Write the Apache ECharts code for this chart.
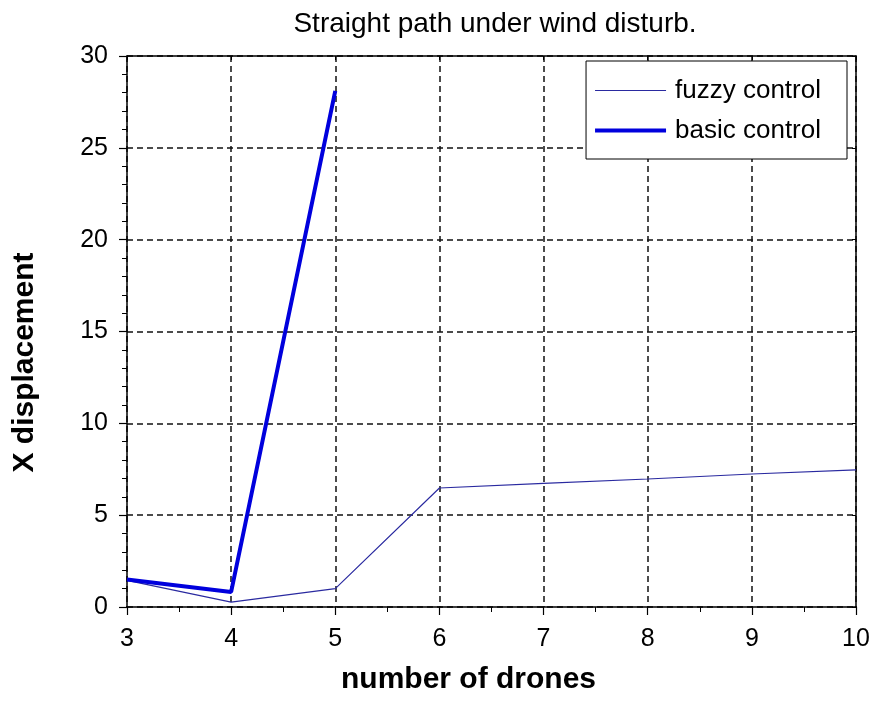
<!DOCTYPE html>
<html>
<head>
<meta charset="utf-8">
<script src="https://cdn.jsdelivr.net/npm/echarts@6/dist/echarts.min.js"></script>
<style>
  html, body { margin: 0; padding: 0; background: #fff; }
  #chart { width: 875px; height: 701px; }
</style>
</head>
<body>
<div id="chart"></div>
<script>
// Number of drones in the formation
const drones = [3, 4, 5, 6, 7, 8, 9, 10];
// X displacement with the fuzzy controller
const fuzzyDisp = [1.45, 0.27, 1.0, 6.48, 6.73, 6.97, 7.24, 7.47];
// The basic controller was only run up to 5 drones
const basicDrones = [3, 4, 5];
const basicDisp = [1.5, 0.82, 28.1];

const seriesNames = ['fuzzy control', 'basic control'];
const xTicks = { min: 3, max: 10, step: 1 };
const yTicks = { min: 0, max: 30, step: 5 };

const FONT = '"Liberation Sans", Arial, sans-serif';

const pairs = (xs, ys) => xs.map((x, i) => [x, ys[i]]);

// Top and right edges close the plot box with short inward ticks
const frameAxis = (extra) => Object.assign({
  axisLine: { show: true, onZero: false, lineStyle: { color: '#000', width: 1.5 } },
  axisTick: { show: true, inside: true, length: 4, lineStyle: { color: '#000', width: 1 } },
  minorTick: { show: false },
  splitLine: { show: false },
  axisLabel: { show: false }
}, extra);

const mainTick = { show: true, inside: false, length: 8, lineStyle: { color: '#000', width: 1.2 } };
const gridDash = { show: true, lineStyle: { color: '#111', width: 1.5, type: [6, 4] } };

const chart = echarts.init(document.getElementById('chart'), null, { renderer: 'canvas' });

chart.setOption({
  backgroundColor: '#fff',
  animation: false,
  title: {
    text: 'Straight path under wind disturb.',
    left: 490,
    textAlign: 'center',
    top: 5,
    textStyle: { fontFamily: FONT, fontSize: 28, fontWeight: 'normal', color: '#000' }
  },
  legend: {
    orient: 'vertical',
    right: 28,
    top: 61,
    padding: [16, 26, 15, 9],
    itemGap: 13,
    itemWidth: 71,
    itemHeight: 14,
    backgroundColor: '#fff',
    borderColor: '#000',
    borderWidth: 1,
    borderRadius: 0,
    textStyle: { fontFamily: FONT, fontSize: 26, color: '#000', lineHeight: 27, padding: [0, 0, 0, 4] },
    data: [
      { name: seriesNames[0], icon: 'path://M0,6.5H71V7.5H0Z', itemStyle: { color: '#2a2aa0' } },
      { name: seriesNames[1], icon: 'path://M0,5H71V9H0Z', itemStyle: { color: '#0000dd' } }
    ]
  },
  grid: { left: 127, right: 19, top: 56, bottom: 94, containLabel: false },
  xAxis: [
    frameAxis({
      type: 'value',
      position: 'bottom',
      min: xTicks.min, max: xTicks.max, interval: xTicks.step,
      axisTick: mainTick,
      minorTick: { show: true, splitNumber: 2, length: 5, lineStyle: { color: '#000', width: 1 } },
      splitLine: gridDash,
      axisLabel: { show: true, margin: 20, fontFamily: FONT, fontSize: 25, color: '#000' },
      name: 'number of drones',
      nameLocation: 'middle',
      nameGap: 58,
      nameTextStyle: { fontFamily: FONT, fontSize: 30, fontWeight: 'bold', color: '#000', padding: [0, 46, 0, 0] }
    }),
    frameAxis({
      type: 'value',
      position: 'top',
      min: xTicks.min, max: xTicks.max, interval: xTicks.step
    })
  ],
  yAxis: [
    frameAxis({
      type: 'value',
      position: 'left',
      min: yTicks.min, max: yTicks.max, interval: yTicks.step,
      axisTick: mainTick,
      minorTick: { show: true, splitNumber: 5, length: 5, lineStyle: { color: '#000', width: 1 } },
      splitLine: gridDash,
      axisLabel: { show: true, margin: 19, fontFamily: FONT, fontSize: 25, color: '#000' },
      name: 'X displacement',
      nameLocation: 'middle',
      nameGap: 87,
      nameRotate: 90,
      nameTextStyle: { fontFamily: FONT, fontSize: 30, fontWeight: 'bold', color: '#000', padding: [0, 62, 0, 0] }
    }),
    frameAxis({
      type: 'value',
      position: 'right',
      min: yTicks.min, max: yTicks.max, interval: yTicks.step
    })
  ],
  series: [
    {
      name: seriesNames[0],
      type: 'line',
      data: pairs(drones, fuzzyDisp),
      showSymbol: false,
      symbol: 'none',
      lineStyle: { color: '#2a2aa0', width: 1.2 },
      itemStyle: { color: '#2a2aa0' },
      z: 3
    },
    {
      name: seriesNames[1],
      type: 'line',
      data: pairs(basicDrones, basicDisp),
      showSymbol: false,
      symbol: 'none',
      lineStyle: { color: '#0000dd', width: 4 },
      itemStyle: { color: '#0000dd' },
      z: 4
    }
  ]
});
</script>
</body>
</html>
